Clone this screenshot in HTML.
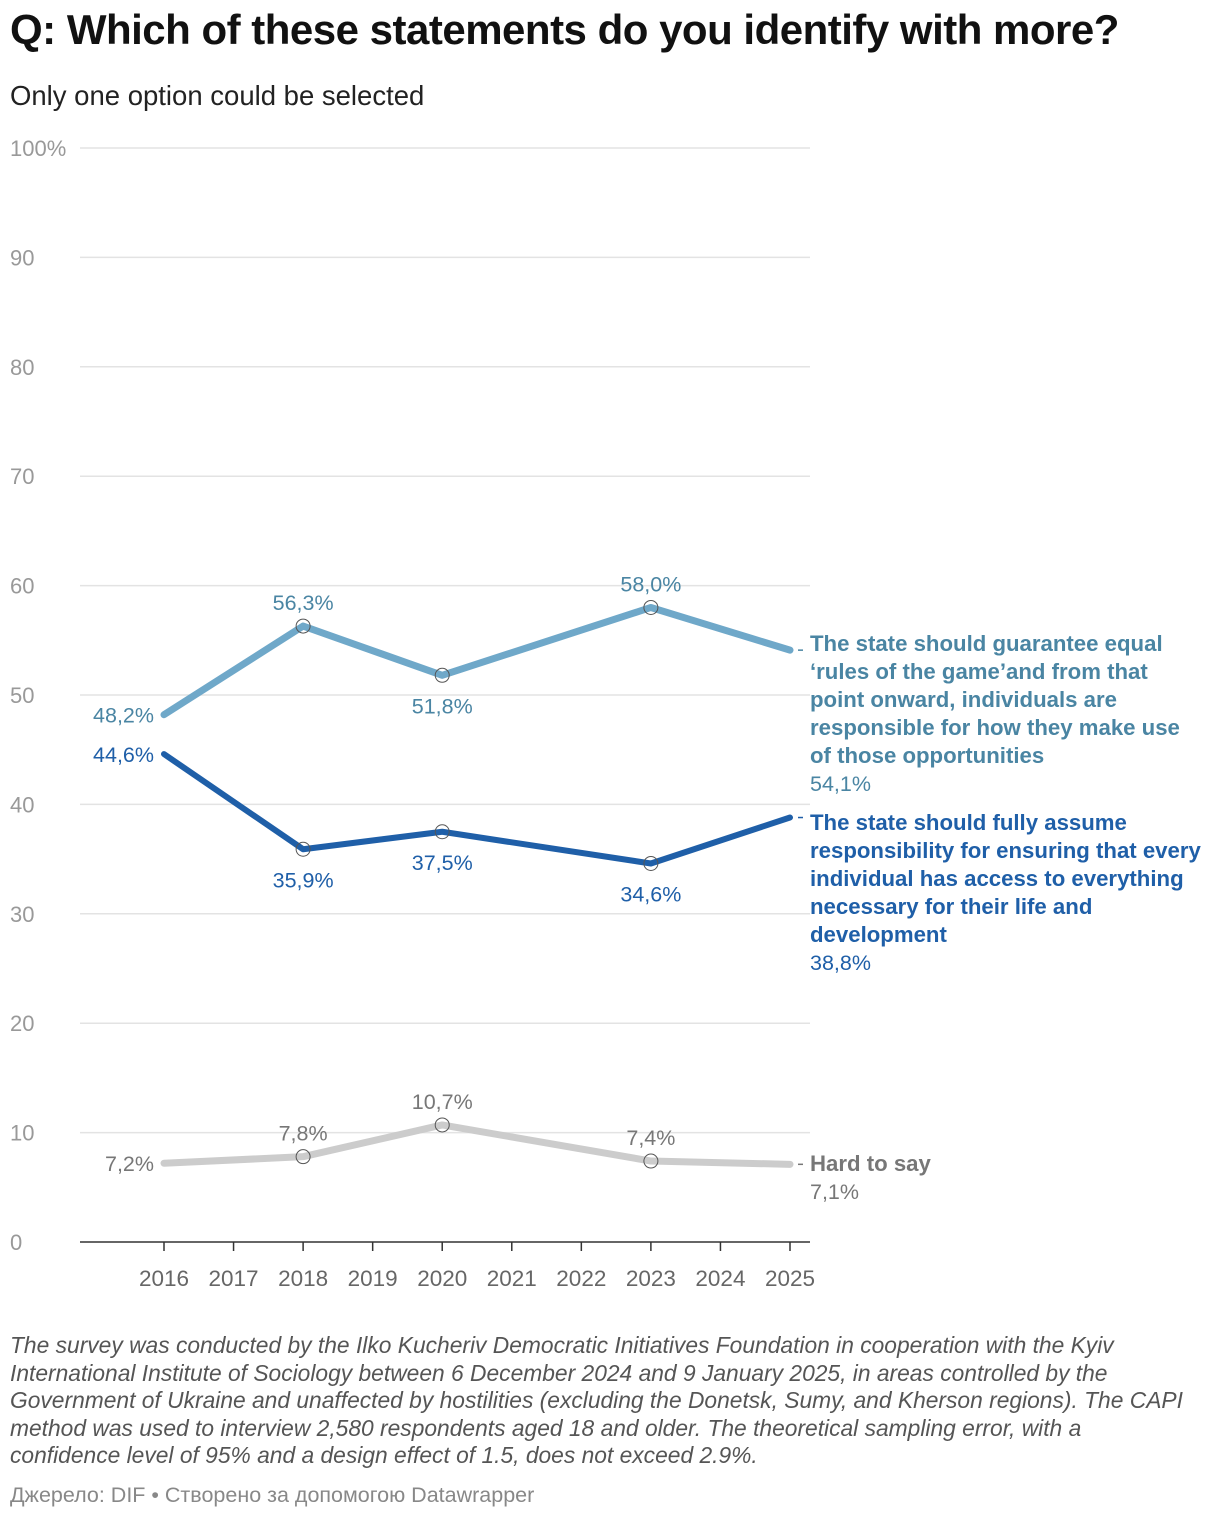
<!DOCTYPE html>
<html><head><meta charset="utf-8"><style>
body{margin:0;width:1220px;height:1520px;background:#fff;font-family:"Liberation Sans",sans-serif;overflow:hidden;position:relative}
.t{position:absolute;left:10px;top:6px;font-size:42px;font-weight:bold;color:#111;letter-spacing:-0.5px}
.s{position:absolute;left:10px;top:80px;font-size:27.5px;color:#222}
.n{position:absolute;left:10px;top:1332px;white-space:nowrap;font-size:22.8px;font-style:italic;color:#555;line-height:27.5px}
.src{position:absolute;left:10px;top:1483px;font-size:21.5px;color:#888}
svg{position:absolute;left:0;top:0}
</style></head><body>
<div class="t">Q: Which of these statements do you identify with more?</div>
<div class="s">Only one option could be selected</div>
<svg id="c" width="1220" height="1320"></svg>
<div class="n">The survey was conducted by the Ilko Kucheriv Democratic Initiatives Foundation in cooperation with the Kyiv<br>International Institute of Sociology between 6 December 2024 and 9 January 2025, in areas controlled by the<br>Government of Ukraine and unaffected by hostilities (excluding the Donetsk, Sumy, and Kherson regions). The CAPI<br>method was used to interview 2,580 respondents aged 18 and older. The theoretical sampling error, with a<br>confidence level of 95% and a design effect of 1.5, does not exceed 2.9%.</div>
<div class="src">Джерело: DIF • Створено за допомогою Datawrapper</div>
<script>
const years=[2016,2018,2020,2023,2025];
const rules=[48.2,56.3,51.8,58.0,54.1];
const full=[44.6,35.9,37.5,34.6,38.8];
const hard=[7.2,7.8,10.7,7.4,7.1];
const yTicks=[0,10,20,30,40,50,60,70,80,90,100];
const xTicks=[2016,2017,2018,2019,2020,2021,2022,2023,2024,2025];
const NS='http://www.w3.org/2000/svg';
const svg=document.getElementById('c');
const X=v=>164+(v-2016)*(626/9);
const Y=v=>1242-v*10.94;
function mk(tag,a,p){const e=document.createElementNS(NS,tag);for(const k in a)e.setAttribute(k,a[k]);(p||svg).appendChild(e);return e;}
function txt(x,y,s,st){const e=mk('text',{x:x,y:y});e.textContent=s;for(const k in st)e.setAttribute(k,st[k]);return e;}
yTicks.forEach(t=>{
 if(t>0){const g=mk('line',{x1:80,x2:810,y1:Y(t),y2:Y(t),stroke:'#e3e3e3','stroke-width':1.5});
 
 }
 const l=txt(10,Y(t)+8,t===100?'100%':String(t),{'font-size':22,fill:'#999','font-family':'Liberation Sans'});
 
 
});
const ax=mk('line',{x1:80,x2:810,y1:1242,y2:1242,stroke:'#333','stroke-width':1.5});


xTicks.forEach(t=>{
 mk('line',{x1:X(t),x2:X(t),y1:1242,y2:1251,stroke:'#333','stroke-width':1.5});
 const l=txt(X(t),1286,String(t),{'font-size':22.5,fill:'#666','text-anchor':'middle'});
 
 
});
const fmt=v=>v.toFixed(1).replace('.',',')+'%';
function series(vals,color,tcolor,w,name,pos,lines,ly){
 const d=vals.map((v,i)=>(i?'L':'M')+X(years[i])+','+Y(v)).join(' ');
 const p=mk('path',{d:d,fill:'none',stroke:color,'stroke-width':w,'stroke-linejoin':'round','stroke-linecap':'round'});
 
 
 vals.forEach((v,i)=>{
  const x=X(years[i]),y=Y(v);
  if(i>0&&i<vals.length-1){const c=mk('circle',{cx:x,cy:y,r:7,fill:'none',stroke:'#555','stroke-width':1});
   
   }
  if(i===vals.length-1)return;
  const ps=pos[i];let tx=x,ty=y,an='middle';
  if(ps==='l'){tx=x-10;ty=y+8;an='end';}else if(ps==='a'){ty=y-16;}else{ty=y+38;}
  const l=txt(tx,ty,fmt(v),{'font-size':21.5,fill:tcolor,'text-anchor':an});
  
  
 });
 const lx=X(2025),lyv=Y(vals[vals.length-1]);
 mk('line',{x1:lx+8,x2:lx+13,y1:lyv,y2:lyv,stroke:tcolor,'stroke-width':1.5});
 lines.forEach((s,k)=>{const l=txt(810,ly+k*28,s,{'font-size':22.2,'font-weight':'bold',fill:tcolor});
  
  });
 const v=txt(810,ly+lines.length*28,fmt(vals[vals.length-1]),{'font-size':21.5,fill:tcolor});
 
 
}
series(hard,'#cccccc','#777',7,'hard-to-say',['l','a','a','a'],['Hard to say'],1171);
series(rules,'#6fa8c9','#4a85a3',7,'equal-rules',['l','a','b','a'],['The state should guarantee equal','‘rules of the game’and from that','point onward, individuals are','responsible for how they make use','of those opportunities'],651);
series(full,'#1f5fa8','#1f5fa8',6,'full-responsibility',['l','b','b','b'],['The state should fully assume','responsibility for ensuring that every','individual has access to everything','necessary for their life and','development'],830);
</script>
</body></html>
